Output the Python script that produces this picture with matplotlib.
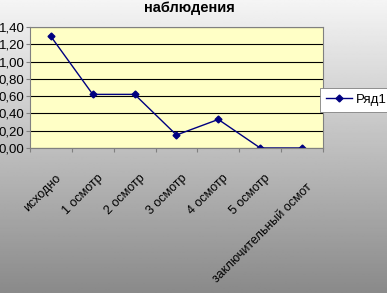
import numpy as np
import matplotlib.pyplot as plt

plt.rcParams['font.family'] = ['Liberation Sans', 'DejaVu Sans']

categories = ['исходно', '1 осмотр', '2 осмотр', '3 осмотр', '4 осмотр',
              '5 осмотр', 'заключительный осмот']
values = [1.29, 0.62, 0.62, 0.15, 0.33, 0.0, 0.0]
yticks = [0.0, 0.2, 0.4, 0.6, 0.8, 1.0, 1.2, 1.4]

fig = plt.figure(figsize=(3.87, 2.93), dpi=100)

# gradient background
bg = fig.add_axes([0, 0, 1, 1], zorder=-10)
grad = np.linspace(0.96, 0.54, 256).reshape(-1, 1)
bg.imshow(grad, aspect='auto', cmap='gray', vmin=0, vmax=1,
          extent=[0, 1, 0, 1])
bg.axis('off')

ax = fig.add_axes([0.0775, 0.495, 0.757, 0.413])
ax.set_facecolor('#FFFFC6')
x = np.arange(len(categories))
ax.plot(x, values, color='#000080', marker='D', markersize=3.5, linewidth=1,
        label='Ряд1')
ax.set_xlim(-0.5, len(categories) - 0.5)
ax.set_ylim(0, 1.4)
ax.set_yticks(yticks)
ax.set_yticklabels([f'{v:.2f}'.replace('.', ',') for v in yticks], fontsize=9.5)
ax.yaxis.grid(True, color='#000000', linewidth=0.8)
ax.set_axisbelow(True)
ax.tick_params(axis='y', length=3, pad=1, color='#808080')

ax.set_xticks(np.arange(len(categories) + 1) - 0.5)
ax.set_xticklabels([])
ax.tick_params(axis='x', length=3, direction='out', color='#808080')
# rotated category labels, right end anchored below each category
for i, lab in enumerate(categories):
    dy = -33 if len(lab) > 10 else -24
    ax.annotate(lab, xy=(i, 0), xycoords=('data', 'axes fraction'),
                xytext=(4, dy), textcoords='offset pixels',
                rotation=45, ha='right', va='top', fontsize=9,
                rotation_mode='anchor')

for s in ax.spines.values():
    s.set_color('#808080')

fig.text(0.49, 0.972, 'наблюдения', ha='center', va='center',
         fontsize=10.5, fontweight='bold')

leg = fig.legend(loc='center left', bbox_to_anchor=(0.826, 0.66),
                 fontsize=9.5, frameon=True, fancybox=False,
                 borderpad=0.45, handlelength=2.0, handletextpad=0.3,
                 borderaxespad=0)
leg.get_frame().set_edgecolor('#808080')
leg.get_frame().set_linewidth(0.6)
leg.get_frame().set_alpha(1)

fig.savefig('out.png', dpi=100)
